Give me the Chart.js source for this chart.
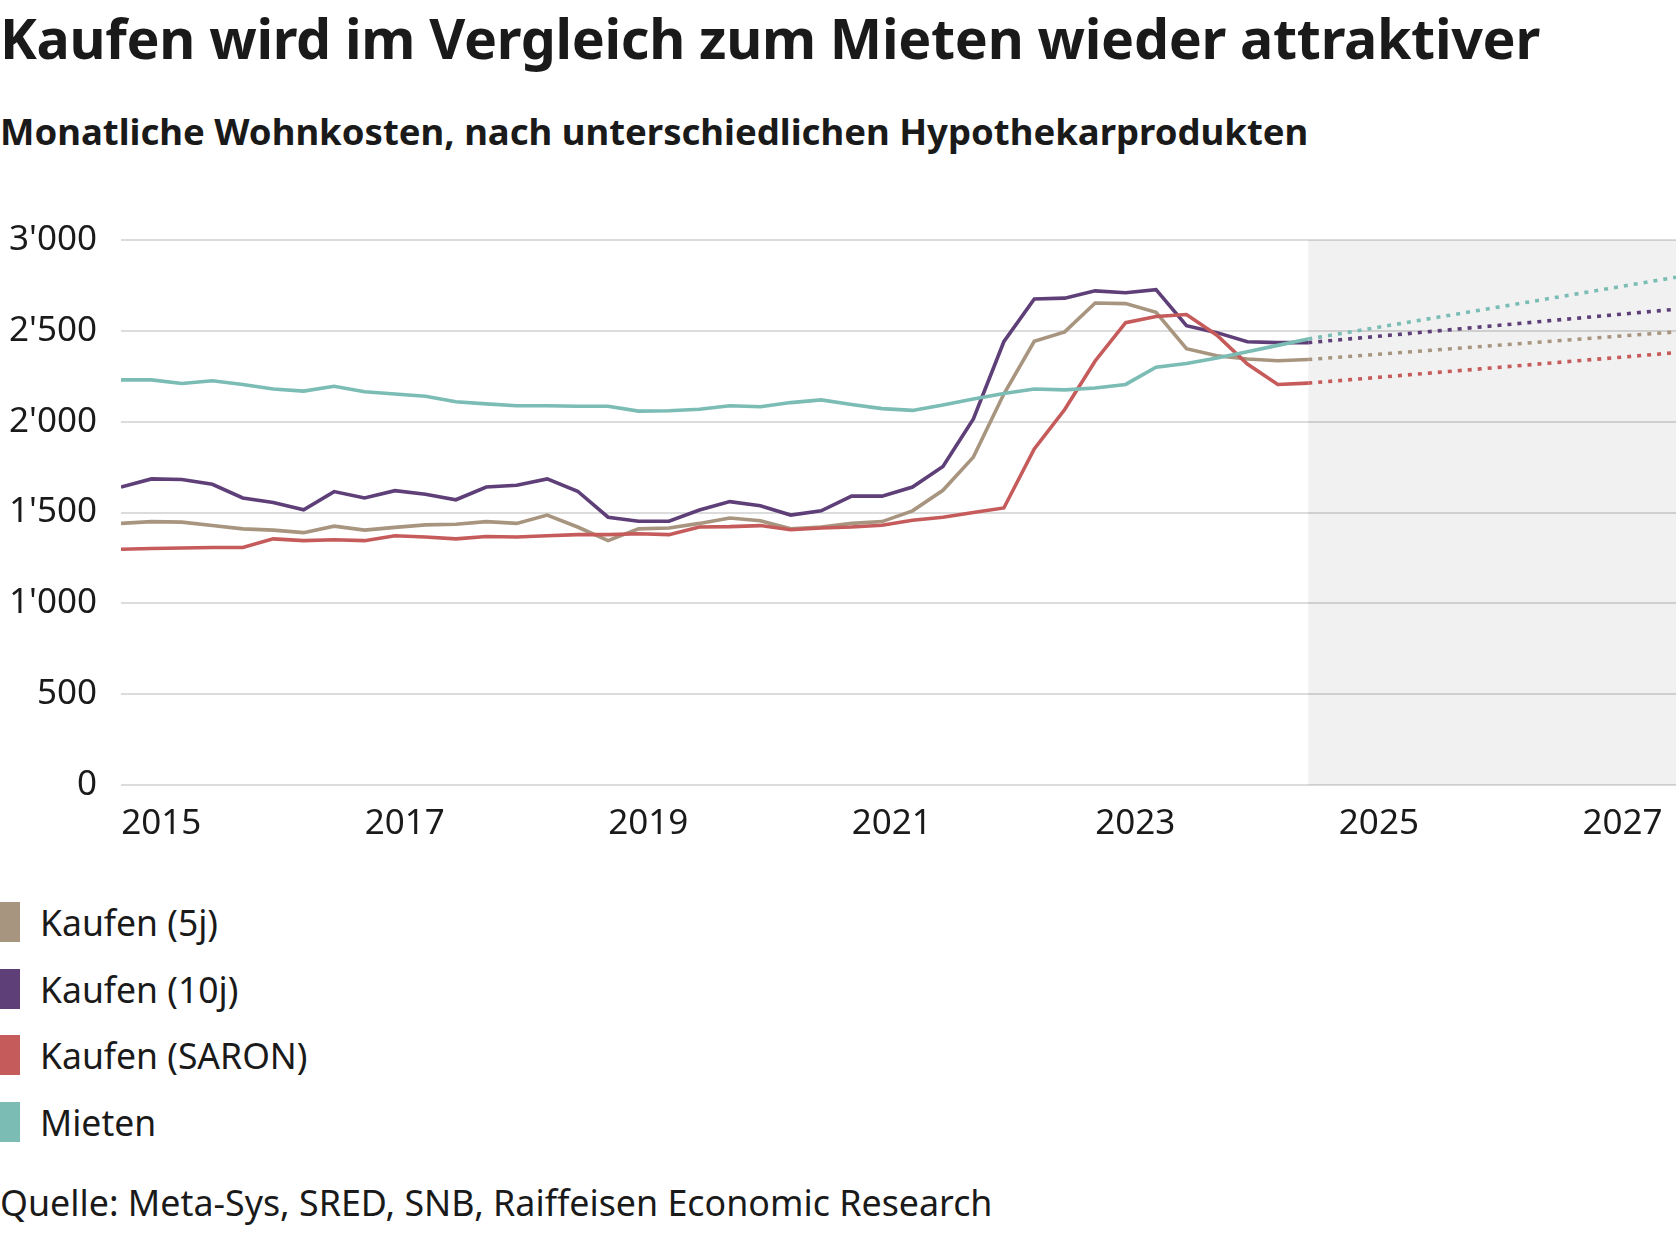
<!DOCTYPE html>
<html>
<head>
<meta charset="utf-8">
<script src="https://cdn.jsdelivr.net/npm/chart.js@4"></script>
<style>
  body { margin: 0; width: 1676px; height: 1234px; background: #fff; font-family: "Noto Sans", sans-serif; color: #1a1a1a; position: relative; overflow: hidden; }
  h1 { position: absolute; left: 0; top: 0px; margin: 0; font-size: 55.5px; font-weight: 700; letter-spacing: -0.3px; }
  h2 { position: absolute; left: 0; top: 106px; margin: 0; font-size: 36.5px; font-weight: 700; }
  #wrap { position: absolute; left: 0; top: 195px; width: 1676px; height: 660px; }
  .legend { position: absolute; left: 0; top: 889px; }
  .legend div { height: 66.5px; display: flex; align-items: center; font-size: 35.5px; }
  .legend span { width: 20px; height: 40px; display: inline-block; margin-right: 20px; }
  .src { position: absolute; left: 0; top: 1178px; font-size: 35.8px; }
</style>
</head>
<body>
<h1>Kaufen wird im Vergleich zum Mieten wieder attraktiver</h1>
<h2>Monatliche Wohnkosten, nach unterschiedlichen Hypothekarprodukten</h2>
<div id="wrap"><canvas id="c"></canvas></div>
<div class="legend">
  <div><span style="background:#a8957f"></span>Kaufen (5j)</div>
  <div><span style="background:#5e3f78"></span>Kaufen (10j)</div>
  <div><span style="background:#c65b5b"></span>Kaufen (SARON)</div>
  <div><span style="background:#7bbcb5"></span>Mieten</div>
</div>
<div class="src">Quelle: Meta-Sys, SRED, SNB, Raiffeisen Economic Research</div>
<script>
// quarterly dates from Q3 2014 to Q2 2024
const startDate = 2014.67
const quarters = 40
const forecastEnd = 2027.44
const yearTicks = [2015, 2017, 2019, 2021, 2023, 2025, 2027]

const kaufen5j = [1440,1450,1447,1428,1410,1403,1389,1425,1403,1418,1432,1435,1450,1440,1486,1420,1345,1410,1415,1440,1470,1455,1410,1420,1440,1450,1509,1622,1805,2152,2442,2494,2653,2650,2602,2402,2363,2345,2335,2342]
const kaufen10j = [1640,1685,1682,1655,1580,1555,1515,1615,1580,1620,1600,1570,1640,1650,1685,1617,1474,1452,1452,1514,1560,1537,1486,1509,1590,1590,1640,1753,2015,2440,2675,2680,2720,2710,2727,2528,2490,2440,2435,2435]
const kaufenSaron = [1298,1302,1305,1307,1307,1355,1345,1350,1345,1372,1365,1355,1368,1365,1372,1378,1378,1383,1378,1420,1422,1428,1405,1415,1420,1430,1457,1474,1500,1525,1850,2067,2334,2545,2579,2590,2476,2317,2205,2212]
const mieten = [2230,2230,2210,2225,2205,2180,2168,2195,2165,2152,2140,2110,2098,2088,2088,2085,2085,2058,2060,2068,2088,2082,2105,2120,2095,2072,2062,2092,2125,2155,2180,2175,2185,2205,2300,2320,2350,2385,2420,2455]

// forecast end values (2027)
const fc5j = 2494
const fc10j = 2619
const fcSaron = 2380
const fcMieten = 2795

const dates = Array.from({ length: quarters }, (_, i) => startDate + i * 0.25)
const lastDate = dates[quarters - 1]

const pts = vals => vals.map((v, i) => ({ x: dates[i], y: v }))
const fc = (vals, end) => [{ x: lastDate, y: vals[vals.length - 1] }, { x: forecastEnd, y: end }]

const line = (data, color) => ({ data, borderColor: color, borderWidth: 3.6, pointRadius: 0, tension: 0 })
const dotted = (data, color) => ({ ...line(data, color), borderDash: [4, 6] })

const shade = {
  id: "shade",
  beforeDatasetsDraw(chart) {
    const { ctx, chartArea, scales } = chart
    const x0 = scales.x.getPixelForValue(lastDate)
    ctx.save()
    ctx.fillStyle = "rgba(0,0,0,0.055)"
    ctx.fillRect(x0, chartArea.top, chartArea.right - x0, chartArea.bottom - chartArea.top)
    ctx.restore()
  },
}

new Chart(document.getElementById("c"), {
  type: "line",
  data: {
    datasets: [
      line(pts(mieten), "#7bbcb5"),
      line(pts(kaufenSaron), "#c65b5b"),
      line(pts(kaufen5j), "#a8957f"),
      line(pts(kaufen10j), "#5e3f78"),
      dotted(fc(mieten, fcMieten), "#7bbcb5"),
      dotted(fc(kaufen10j, fc10j), "#5e3f78"),
      dotted(fc(kaufen5j, fc5j), "#a8957f"),
      dotted(fc(kaufenSaron, fcSaron), "#c65b5b"),
    ],
  },
  options: {
    responsive: true,
    maintainAspectRatio: false,
    animation: false,
    layout: { padding: { top: 27, right: 0, bottom: 0, left: 0 } },
    scales: {
      x: {
        type: "linear",
        min: startDate,
        max: forecastEnd,
        afterBuildTicks: axis => { axis.ticks = yearTicks.map(v => ({ value: v })) },
        afterFit: axis => { axis.height = 70 },
        grid: { display: false },
        border: { display: false },
        ticks: { color: "#1a1a1a", font: { family: "Noto Sans", size: 35 }, padding: 10, maxRotation: 0, callback: v => String(v) },
      },
      y: {
        min: 0,
        max: 3000,
        afterFit: axis => { axis.width = 121 },
        grid: { color: "#dcdcdc", lineWidth: 2, drawTicks: false },
        border: { display: false },
        ticks: {
          stepSize: 500,
          padding: 24,
          color: "#1a1a1a",
          font: { family: "Noto Sans", size: 35 },
          callback: v => String(v).replace(/\B(?=(\d{3})+(?!\d))/g, "'"),
        },
      },
    },
    plugins: { legend: { display: false }, tooltip: { enabled: false } },
  },
  plugins: [shade],
})
</script>
</body>
</html>
